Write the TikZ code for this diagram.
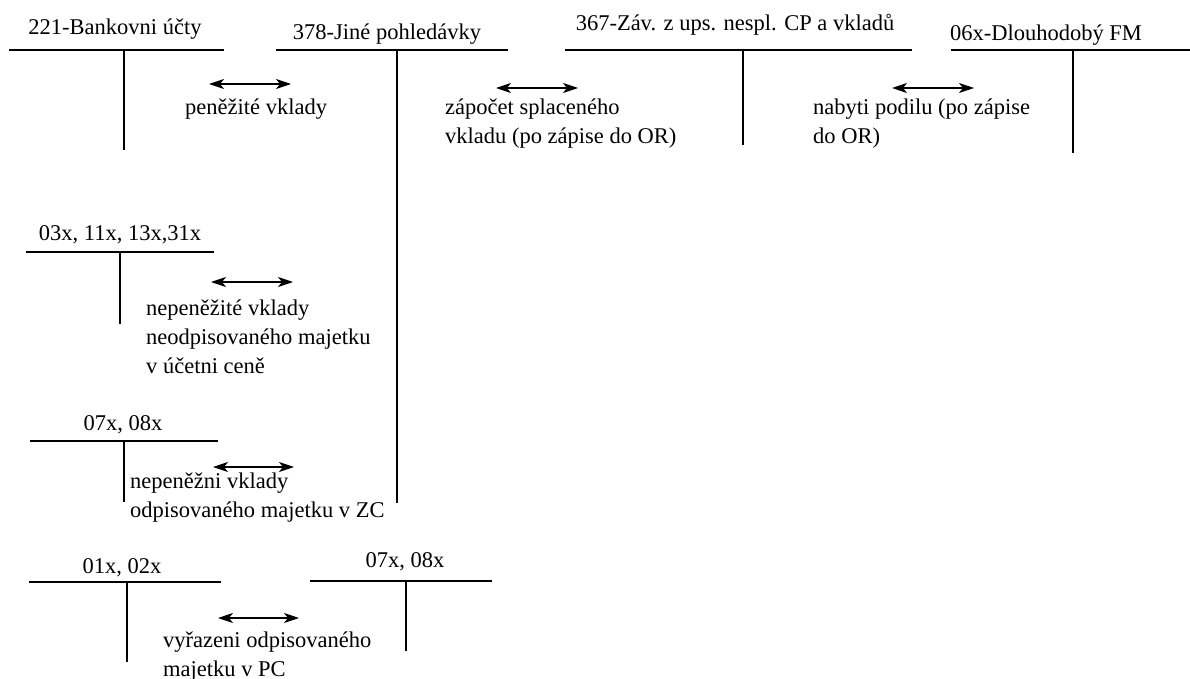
\documentclass[tikz,border=0pt]{standalone}
\usepackage{fontspec}
\setmainfont{Liberation Serif}
\usetikzlibrary{arrows.meta}
\tikzset{
  acct/.style={line width=1.2pt, black},
  flow/.style={line width=1.1pt, {Stealth[length=15pt,width=10pt,inset=4pt]}-{Stealth[length=15pt,width=10pt,inset=4pt]}},
  lbl/.style={inner sep=0pt, anchor=base, font=\fontsize{22.5}{29}\selectfont},
  txt/.style={inner sep=0pt, anchor=base west, font=\fontsize{22.5}{29}\selectfont}
}
\newcommand{\mlines}[1]{\begin{tabular}[t]{@{}l@{}}#1\end{tabular}}
\begin{document}
\begin{tikzpicture}[x=1pt,y=-1pt]
\useasboundingbox (0,0) rectangle (1190,679);
% top row accounts
\node[lbl] (l221) at (115,35) {221-Bankovni účty};
\draw[acct] (9,50) -- (224,50) (124,50) -- (124,150);
\node[lbl] (l378) at (387,40) {378-Jiné pohledávky};
\draw[acct] (276,50) -- (508,50) (397,50) -- (397,503);
\node[lbl] (l367) at (735,31) {367-Záv. z ups. nespl. CP a vkladů};
\draw[acct] (565,50) -- (912,50) (743,50) -- (743,145);
\node[lbl] (l06x) at (1046,41) {06x-Dlouhodobý FM};
\draw[acct] (951,50) -- (1190,50) (1073,50) -- (1073,153);
% top arrows
\coordinate (a1s) at (209,84); \coordinate (a1e) at (291,84);
\draw[flow] (a1s) -- (a1e);
\node[txt] (t1) at (185,115) {peněžité vklady};
\coordinate (a2s) at (496,88); \coordinate (a2e) at (578,88);
\draw[flow] (a2s) -- (a2e);
\node[txt] (t2) at (445,115) {\mlines{zápočet splaceného\\vkladu (po zápise do OR)}};
\coordinate (a3s) at (892,88); \coordinate (a3e) at (974,88);
\draw[flow] (a3s) -- (a3e);
\node[txt] (t3) at (813,115) {\mlines{nabyti podilu (po zápise\\do OR)}};
% 03x
\node[lbl] (l03x) at (120,240) {03x, 11x, 13x,31x};
\draw[acct] (26,252) -- (214,252) (120,252) -- (120,324);
\coordinate (a4s) at (211,282); \coordinate (a4e) at (293,282);
\draw[flow] (a4s) -- (a4e);
\node[txt] (t4) at (146,315) {\mlines{nepeněžité vklady\\neodpisovaného majetku\\v účetni ceně}};
% 07x
\node[lbl] (l07x) at (123,430) {07x, 08x};
\draw[acct] (30,441) -- (218,441) (124,441) -- (124,502);
\coordinate (a5s) at (213,467); \coordinate (a5e) at (294,467);
\draw[flow] (a5s) -- (a5e);
\node[txt] (t5) at (130,488) {\mlines{nepeněžni vklady\\odpisovaného majetku v ZC}};
% 01x / 07x
\node[lbl] (l01x) at (122,573) {01x, 02x};
\draw[acct] (29,582) -- (221,582) (127,582) -- (127,662);
\node[lbl] (l07b) at (405,567) {07x, 08x};
\draw[acct] (310,581) -- (492,581) (406,581) -- (406,651);
\coordinate (a6s) at (218,618); \coordinate (a6e) at (299,618);
\draw[flow] (a6s) -- (a6e);
\node[txt] (t6) at (163,647) {\mlines{vyřazeni odpisovaného\\majetku v PC}};
\end{tikzpicture}
\end{document}
